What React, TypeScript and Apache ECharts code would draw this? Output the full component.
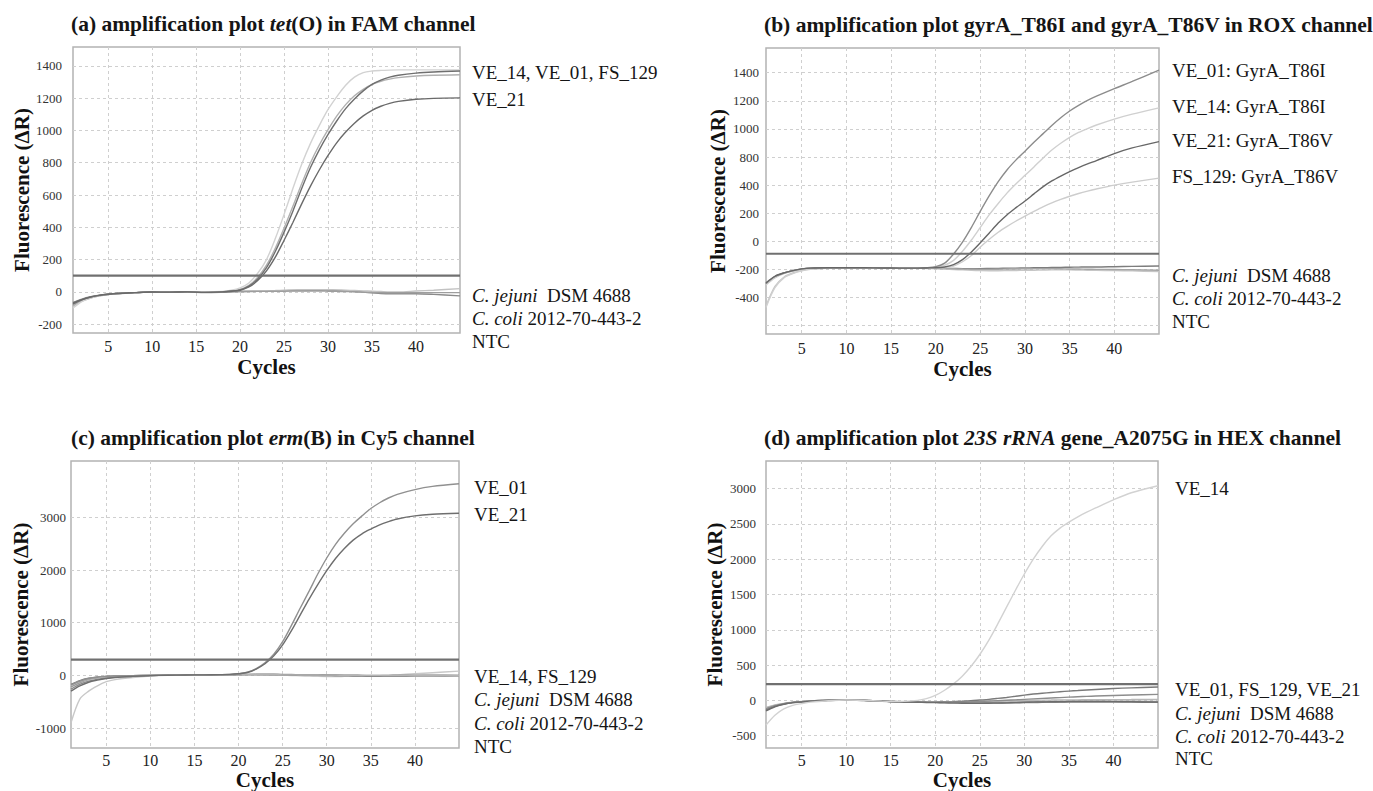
import React, { useEffect, useRef } from "react";
import * as echarts from "echarts";

// ---------- DATA ----------
const cycles = [1, 2, 3, 4, 5, 6, 8, 10, 12, 14, 16, 18, 19, 20, 21, 22, 23, 24, 25, 26, 27, 28, 29, 30, 31, 32, 33, 34, 35, 36, 37, 38, 40, 42, 45];
const xTicks = [5, 10, 15, 20, 25, 30, 35, 40];

// (a) tet(O), FAM
const aVE14 = [-100, -60, -38, -25, -17, -12, -6, -2, -2, 0, 0, 3, 10, 25, 55, 115, 200, 330, 480, 640, 790, 920, 1030, 1130, 1210, 1280, 1330, 1358, 1368, 1372, 1374, 1375, 1375, 1375, 1375];
const aVE01 = [-75, -50, -33, -22, -15, -10, -5, -1, -2, 0, -3, 0, 5, 12, 35, 80, 150, 250, 370, 500, 640, 770, 880, 975, 1060, 1135, 1195, 1245, 1285, 1312, 1330, 1342, 1355, 1362, 1368];
const aFS129 = [-85, -55, -36, -24, -16, -11, -5, -2, -1, 0, -2, 1, 6, 15, 40, 90, 165, 270, 395, 530, 670, 800, 910, 1005, 1090, 1160, 1215, 1255, 1285, 1305, 1318, 1327, 1337, 1342, 1345];
const aVE21 = [-70, -48, -32, -22, -15, -10, -5, -1, -2, 0, -3, 0, 4, 10, 30, 70, 130, 215, 320, 430, 545, 655, 755, 845, 925, 990, 1045, 1090, 1125, 1150, 1168, 1180, 1193, 1199, 1202];
const aJejuni = [-65, -45, -30, -20, -14, -10, -5, -2, -3, -1, -4, -2, 0, 2, 3, 4, 5, 5, 6, 8, 8, 9, 10, 10, 8, 5, 2, -2, -6, -10, -12, -12, -12, -16, -25];
const aColi = [-90, -58, -38, -25, -17, -12, -6, -2, -2, 0, -2, 0, 2, 4, 5, 6, 7, 8, 10, 12, 13, 14, 14, 13, 12, 10, 8, 6, 4, 2, 0, 0, 5, 10, 20];
const aNTC = [-80, -52, -35, -23, -16, -11, -5, -2, -2, -1, -3, -1, 1, 2, 2, 3, 3, 4, 4, 5, 5, 5, 5, 4, 3, 2, 0, -2, -4, -5, -6, -6, -6, -5, -5];
const aThreshold = 100;
const aYTicks = [-200, 0, 200, 400, 600, 800, 1000, 1200, 1400];

// (b) gyrA, ROX
const bVE01 = [-100, -50, -25, -8, 4, 10, 12, 12, 12, 11, 10, 10, 12, 20, 45, 110, 195, 300, 415, 525, 625, 710, 780, 842, 905, 965, 1025, 1080, 1128, 1168, 1203, 1233, 1287, 1338, 1418];
const bVE14 = [-270, -130, -60, -30, -10, 2, 10, 12, 12, 11, 10, 10, 11, 15, 30, 65, 130, 210, 300, 390, 470, 545, 610, 670, 730, 792, 850, 898, 940, 975, 1003, 1028, 1070, 1105, 1150];
const bVE21 = [-95, -48, -24, -8, 4, 10, 12, 12, 12, 11, 10, 10, 11, 12, 18, 35, 70, 125, 190, 260, 330, 390, 440, 487, 538, 588, 630, 665, 697, 725, 751, 775, 825, 865, 910];
const bFS129 = [-110, -60, -30, -12, 0, 6, 10, 11, 11, 10, 9, 9, 10, 10, 14, 25, 55, 100, 160, 215, 265, 307, 345, 380, 413, 445, 474, 499, 521, 541, 558, 573, 600, 622, 650];
const bJejuni = [-100, -52, -26, -9, 3, 9, 11, 12, 12, 11, 10, 10, 10, 9, 8, 7, 6, 6, 6, 7, 8, 9, 10, 11, 12, 13, 14, 15, 16, 17, 18, 18, 20, 22, 25];
const bColi = [-260, -120, -55, -25, -8, 3, 9, 11, 11, 10, 9, 8, 7, 5, 3, 0, -3, -6, -8, -9, -9, -8, -7, -6, -5, -4, -3, -3, -3, -4, -5, -6, -8, -10, -15];
const bNTC = [-105, -55, -28, -10, 2, 8, 10, 11, 11, 10, 9, 9, 9, 8, 7, 5, 3, 2, 1, 1, 2, 3, 4, 5, 6, 6, 6, 5, 4, 3, 2, 1, 0, -2, -5];
const bThreshold = 112;
const bYGrid = [-400, -200, 0, 200, 400, 600, 800, 1000, 1200, 1400];
const bYLabelValues = [-200, 0, 200, 400, 600, 800, 1000, 1200, 1400];
const bYLabelTexts = ["-400", "-200", "0", "200", "400", "800", "1000", "1200", "1400"];

// (c) erm(B), Cy5
const cVE01 = [-180, -110, -60, -35, -20, -12, -5, 0, 5, 8, 10, 14, 18, 30, 60, 130, 240, 400, 640, 950, 1280, 1600, 1930, 2230, 2490, 2700, 2880, 3030, 3170, 3280, 3370, 3440, 3530, 3590, 3640];
const cVE21 = [-300, -200, -130, -90, -60, -40, -20, -5, 3, 7, 10, 14, 18, 30, 55, 120, 220, 370, 580, 850, 1150, 1450, 1730, 1990, 2220, 2410, 2570, 2690, 2780, 2860, 2920, 2970, 3030, 3060, 3080];
const cVE14 = [-900, -450, -300, -200, -120, -80, -40, -15, 0, 5, 8, 10, 12, 15, 15, 14, 12, 8, 3, -2, -8, -15, -20, -22, -22, -20, -18, -15, -10, -5, 0, 10, 30, 50, 80];
const cFS129 = [-220, -140, -80, -50, -30, -18, -8, -2, 3, 6, 8, 10, 12, 15, 18, 20, 20, 20, 18, 16, 14, 12, 10, 8, 6, 4, 2, 0, -2, -3, -3, -2, 0, 2, 5];
const cJejuni = [-170, -100, -55, -30, -18, -10, -4, 0, 4, 7, 9, 11, 13, 15, 16, 17, 17, 16, 15, 14, 12, 10, 8, 5, 2, 0, -2, -4, -5, -5, -4, -2, 0, 0, -5];
const cColi = [-260, -170, -110, -75, -50, -32, -15, -3, 3, 6, 8, 10, 12, 14, 15, 15, 14, 12, 10, 8, 5, 2, 0, -3, -6, -9, -12, -15, -17, -18, -18, -17, -15, -12, -10];
const cNTC = [-190, -120, -70, -40, -25, -15, -6, -1, 4, 7, 9, 11, 13, 14, 14, 13, 12, 11, 10, 9, 8, 7, 6, 5, 4, 3, 2, 1, 0, -1, -2, -3, -4, -5, -6];
const cThreshold = 300;
const cYTicks = [-1000, 0, 1000, 2000, 3000];

// (d) 23S rRNA A2075G, HEX
const dVE14 = [-350, -210, -120, -70, -45, -25, -5, 5, 0, -10, -15, 0, 25, 70, 140, 230, 340, 480, 650, 850, 1080, 1320, 1560, 1790, 2000, 2180, 2330, 2440, 2525, 2600, 2665, 2725, 2840, 2940, 3040];
const dVE01 = [-130, -80, -50, -30, -20, -10, 0, 5, 0, -10, -20, -25, -25, -25, -22, -18, -12, -5, 5, 15, 28, 42, 58, 75, 90, 102, 112, 122, 132, 140, 148, 155, 168, 178, 190];
const dFS129 = [-120, -75, -48, -28, -18, -8, 2, 6, 0, -10, -20, -25, -27, -28, -28, -26, -24, -20, -15, -10, -4, 2, 8, 15, 22, 28, 34, 40, 46, 52, 57, 62, 70, 77, 85];
const dVE21 = [-150, -90, -55, -32, -22, -12, -2, 4, -2, -12, -22, -27, -30, -32, -35, -38, -40, -42, -42, -40, -38, -35, -32, -28, -25, -22, -20, -18, -16, -15, -15, -15, -17, -20, -25];
const dJejuni = [-110, -70, -45, -28, -18, -8, 2, 7, 2, -8, -18, -22, -24, -25, -25, -26, -27, -28, -28, -27, -26, -24, -22, -20, -18, -16, -15, -14, -13, -12, -12, -12, -12, -13, -15];
const dColi = [-140, -85, -52, -32, -20, -10, 0, 5, 0, -10, -20, -24, -26, -28, -30, -32, -34, -36, -38, -38, -37, -36, -34, -32, -30, -28, -27, -26, -25, -24, -24, -24, -24, -25, -27];
const dNTC = [-100, -65, -42, -26, -16, -6, 4, 8, 2, -8, -18, -22, -22, -22, -20, -18, -15, -12, -10, -8, -6, -4, -2, 0, 2, 4, 5, 6, 7, 8, 9, 10, 11, 12, 14];
const dThreshold = 230;
const dYTicks = [-500, 0, 500, 1000, 1500, 2000, 2500, 3000];

// ---------- STYLE / LAYOUT ----------
const SERIF = '"Liberation Serif", "DejaVu Serif", serif';

type S = { name: string; data: number[]; color: string };

const panels = [
  {
    grid: { left: 73, top: 47, width: 387, height: 286 },
    yMin: -255, yMax: 1517, yGrid: aYTicks, yLabels: aYTicks, yTexts: aYTicks.map(String),
    threshold: aThreshold, yLabelMargin: 11, xLabelMargin: 5, xNameGap: 23, yNameGap: 38,
    series: [
      { name: "C. jejuni DSM 4688", data: aJejuni, color: "#8a8a8a" },
      { name: "C. coli 2012-70-443-2", data: aColi, color: "#c2c2c2" },
      { name: "NTC", data: aNTC, color: "#9e9e9e" },
      { name: "FS_129", data: aFS129, color: "#b0b0b0" },
      { name: "VE_14", data: aVE14, color: "#d2d2d2" },
      { name: "VE_01", data: aVE01, color: "#6f6f6f" },
      { name: "VE_21", data: aVE21, color: "#6a6a6a" },
    ] as S[],
  },
  {
    grid: { left: 766, top: 48, width: 393, height: 286 },
    yMin: -459, yMax: 1576, yGrid: bYGrid, yLabels: bYLabelValues, yTexts: bYLabelTexts,
    threshold: bThreshold, yLabelMargin: 7, xLabelMargin: 6, xNameGap: 24, yNameGap: 38,
    series: [
      { name: "C. jejuni DSM 4688", data: bJejuni, color: "#7d7d7d" },
      { name: "C. coli 2012-70-443-2", data: bColi, color: "#c6c6c6" },
      { name: "NTC", data: bNTC, color: "#a5a5a5" },
      { name: "VE_14", data: bVE14, color: "#d0d0d0" },
      { name: "FS_129", data: bFS129, color: "#cdcdcd" },
      { name: "VE_01", data: bVE01, color: "#8c8c8c" },
      { name: "VE_21", data: bVE21, color: "#676767" },
    ] as S[],
  },
  {
    grid: { left: 71, top: 461, width: 388, height: 287 },
    yMin: -1380, yMax: 4073, yGrid: cYTicks, yLabels: cYTicks, yTexts: cYTicks.map(String),
    threshold: cThreshold, yLabelMargin: 5, xLabelMargin: 4, xNameGap: 21, yNameGap: 37,
    series: [
      { name: "VE_14", data: cVE14, color: "#c8c8c8" },
      { name: "FS_129", data: cFS129, color: "#9a9a9a" },
      { name: "C. jejuni DSM 4688", data: cJejuni, color: "#7e7e7e" },
      { name: "C. coli 2012-70-443-2", data: cColi, color: "#8a8a8a" },
      { name: "NTC", data: cNTC, color: "#b4b4b4" },
      { name: "VE_01", data: cVE01, color: "#909090" },
      { name: "VE_21", data: cVE21, color: "#6e6e6e" },
    ] as S[],
  },
  {
    grid: { left: 766, top: 461, width: 392, height: 287 },
    yMin: -674, yMax: 3390, yGrid: dYTicks, yLabels: dYTicks, yTexts: dYTicks.map(String),
    threshold: dThreshold, yLabelMargin: 10, xLabelMargin: 4, xNameGap: 21, yNameGap: 41,
    series: [
      { name: "C. jejuni DSM 4688", data: dJejuni, color: "#9a9a9a" },
      { name: "C. coli 2012-70-443-2", data: dColi, color: "#8c8c8c" },
      { name: "NTC", data: dNTC, color: "#b8b8b8" },
      { name: "VE_01", data: dVE01, color: "#7a7a7a" },
      { name: "FS_129", data: dFS129, color: "#8d8d8d" },
      { name: "VE_21", data: dVE21, color: "#6d6d6d" },
      { name: "VE_14", data: dVE14, color: "#d2d2d2" },
    ] as S[],
  },
];

const titles = [
  { x: 71, y: 24, text: "(a) amplification plot {i|tet}(O) in FAM channel" },
  { x: 764, y: 25, text: "(b) amplification plot gyrA_T86I and gyrA_T86V in ROX channel" },
  { x: 71, y: 438, text: "(c) amplification plot {i|erm}(B) in Cy5 channel" },
  { x: 764, y: 438, text: "(d) amplification plot {i|23S rRNA} gene_A2075G in HEX channel" },
];

const JEJ = "{i|C. jejuni}  DSM 4688";
const COLI = "{i|C. coli} 2012-70-443-2";
const sideLabels = [
  { x: 472, items: [["VE_14, VE_01, FS_129", 72], ["VE_21", 99], [JEJ, 295], [COLI, 318], ["NTC", 341]] },
  { x: 1172, items: [["VE_01: GyrA_T86I", 70], ["VE_14: GyrA_T86I", 106], ["VE_21: GyrA_T86V", 140], ["FS_129: GyrA_T86V", 176], [JEJ, 275], [COLI, 298], ["NTC", 321]] },
  { x: 474, items: [["VE_01", 487], ["VE_21", 514], ["VE_14, FS_129", 676], [JEJ, 699], [COLI, 723], ["NTC", 746]] },
  { x: 1175, items: [["VE_14", 488], ["VE_01, FS_129, VE_21", 689], [JEJ, 713], [COLI, 736], ["NTC", 758]] },
];

function textEl(x: number, y: number, text: string, size: number, weight: string) {
  return {
    type: "text",
    x,
    y,
    silent: true,
    style: {
      text,
      fill: "#151515",
      fontSize: size,
      fontFamily: SERIF,
      fontWeight: weight,
      align: "left",
      verticalAlign: "middle",
      textAlign: "left",
      textVerticalAlign: "middle",
      rich: {
        i: { fontStyle: "italic", fontSize: size, fontFamily: SERIF, fontWeight: weight, fill: "#151515" },
      },
    },
  };
}

function buildOption() {
  const grid: any[] = [];
  const xAxis: any[] = [];
  const yAxis: any[] = [];
  const series: any[] = [];
  const splitStyle = { show: true, lineStyle: { color: "#cfcfcf", width: 1, type: [3, 3] } };

  panels.forEach((p, i) => {
    grid.push({ ...p.grid, show: true, borderColor: "#b3b3b3", borderWidth: 1.5, backgroundColor: "transparent", containLabel: false });
    xAxis.push({
      type: "value",
      gridIndex: i,
      min: 1,
      max: 45,
      name: "Cycles",
      nameLocation: "middle",
      nameGap: p.xNameGap,
      nameTextStyle: { fontFamily: SERIF, fontSize: 21, fontWeight: "bold", color: "#111" },
      axisLine: { show: false },
      axisTick: { show: false, customValues: xTicks },
      axisLabel: { customValues: xTicks, margin: p.xLabelMargin, fontFamily: SERIF, fontSize: 16, color: "#222" },
      splitLine: splitStyle,
    });
    const labVals = p.yLabels;
    const labTexts = p.yTexts;
    yAxis.push({
      type: "value",
      gridIndex: i,
      min: p.yMin,
      max: p.yMax,
      name: "Fluorescence (\u0394R)",
      nameLocation: "middle",
      nameGap: p.yNameGap,
      nameTextStyle: { fontFamily: SERIF, fontSize: 21, fontWeight: "bold", color: "#111" },
      axisLine: { show: false },
      axisTick: { show: false, customValues: p.yGrid },
      axisLabel: {
        customValues: labVals,
        margin: p.yLabelMargin,
        fontFamily: SERIF,
        fontSize: 13,
        color: "#333",
        formatter: (v: number) => {
          const k = labVals.indexOf(v);
          return k >= 0 ? labTexts[k] : "";
        },
      },
      splitLine: splitStyle,
    });
    p.series.forEach((s) => {
      series.push({
        type: "line",
        name: s.name,
        xAxisIndex: i,
        yAxisIndex: i,
        data: cycles.map((c, k) => [c, s.data[k]]),
        showSymbol: false,
        smooth: 0.3,
        silent: true,
        lineStyle: { color: s.color, width: 1.4 },
        z: 2,
      });
    });
    series.push({
      type: "line",
      name: "threshold",
      xAxisIndex: i,
      yAxisIndex: i,
      data: [[1, p.threshold], [45, p.threshold]],
      showSymbol: false,
      silent: true,
      lineStyle: { color: "#707070", width: 2.2 },
      z: 3,
    });
  });

  const graphic: any[] = [];
  titles.forEach((t) => graphic.push(textEl(t.x, t.y, t.text, 21.5, "bold")));
  sideLabels.forEach((g) => g.items.forEach(([txt, y]) => graphic.push(textEl(g.x, y as number, txt as string, 19, "normal"))));

  return {
    animation: false,
    backgroundColor: "#ffffff",
    grid,
    xAxis,
    yAxis,
    series,
    graphic,
  };
}

export default function App() {
  const ref = useRef<HTMLDivElement>(null);
  useEffect(() => {
    if (!ref.current) return;
    const chart = echarts.init(ref.current, undefined, { renderer: "svg" });
    chart.setOption(buildOption() as any);
    return () => chart.dispose();
  }, []);
  return (
    <div
      ref={ref}
      style={{ position: "fixed", left: 0, top: 0, width: 1373, height: 791, background: "#fff" }}
    />
  );
}
